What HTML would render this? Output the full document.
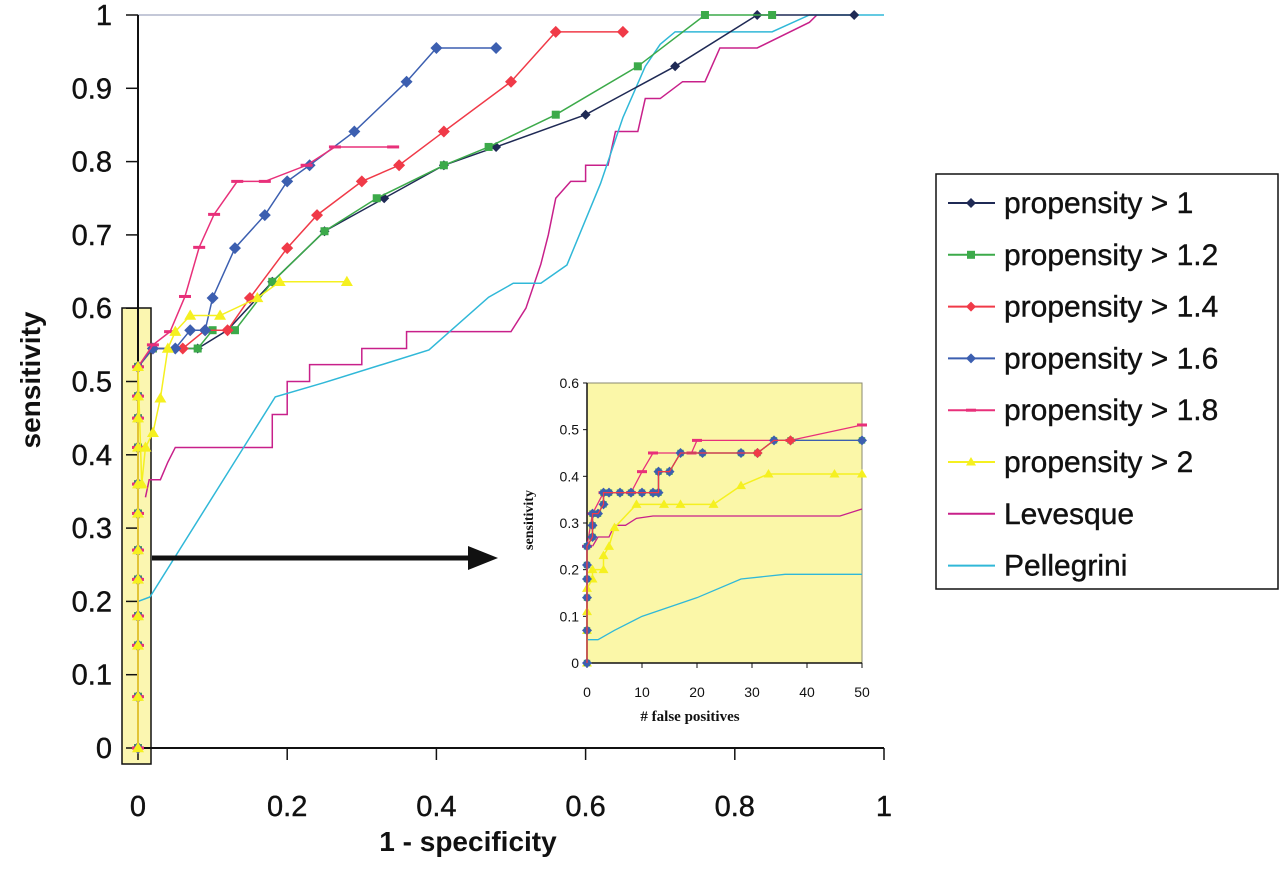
<!DOCTYPE html>
<html><head><meta charset="utf-8"><style>
html,body{margin:0;padding:0;background:#fff;width:1280px;height:889px;overflow:hidden}
svg{display:block;font-family:"Liberation Sans",sans-serif}
</style></head><body>
<svg id="chart" width="1280" height="889"></svg>
<script>
// ---------- main chart data ----------
const xTicks=[0,0.2,0.4,0.6,0.8,1];
const xTickLabels=["0","0.2","0.4","0.6","0.8","1"];
const yTicks=[0,0.1,0.2,0.3,0.4,0.5,0.6,0.7,0.8,0.9,1];
const yTickLabels=["0","0.1","0.2","0.3","0.4","0.5","0.6","0.7","0.8","0.9","1"];
const seriesNames=["propensity > 1","propensity > 1.2","propensity > 1.4","propensity > 1.6","propensity > 1.8","propensity > 2","Levesque","Pellegrini"];
const startY=[0,0.07,0.14,0.18,0.23,0.27,0.32,0.36,0.41,0.45,0.48,0.52];
const p1X=[0.02,0.08,0.12,0.18,0.25,0.33,0.41,0.48,0.6,0.72,0.83,0.96];
const p1Y=[0.545,0.545,0.57,0.636,0.705,0.75,0.795,0.82,0.864,0.93,1,1];
const p12X=[0.02,0.08,0.1,0.13,0.18,0.25,0.32,0.41,0.47,0.56,0.67,0.76,0.85];
const p12Y=[0.545,0.545,0.57,0.57,0.636,0.705,0.75,0.795,0.82,0.864,0.93,1,1];
const p14X=[0.02,0.06,0.09,0.12,0.15,0.2,0.24,0.3,0.35,0.41,0.5,0.56,0.65];
const p14Y=[0.545,0.545,0.57,0.57,0.614,0.682,0.727,0.773,0.795,0.841,0.909,0.977,0.977];
const p16X=[0.02,0.05,0.07,0.09,0.1,0.13,0.17,0.2,0.23,0.29,0.36,0.4,0.48];
const p16Y=[0.545,0.545,0.57,0.57,0.614,0.682,0.727,0.773,0.795,0.841,0.909,0.955,0.955];
const p18X=[0.02,0.043,0.063,0.082,0.102,0.133,0.17,0.226,0.264,0.342];
const p18Y=[0.55,0.568,0.616,0.683,0.728,0.773,0.773,0.795,0.82,0.82];
const p2X=[0.005,0.01,0.02,0.03,0.04,0.05,0.07,0.11,0.16,0.19,0.28];
const p2Y=[0.36,0.41,0.43,0.477,0.545,0.568,0.59,0.59,0.614,0.636,0.636];
const levX=[0.01,0.015,0.03,0.04,0.05,0.18,0.18,0.2,0.2,0.23,0.23,0.3,0.3,0.36,0.36,0.5,0.52,0.54,0.55,0.56,0.58,0.6,0.6,0.63,0.64,0.67,0.68,0.7,0.73,0.76,0.78,0.83,0.9,0.91];
const levY=[0.342,0.366,0.366,0.39,0.41,0.41,0.455,0.455,0.5,0.5,0.523,0.523,0.545,0.545,0.568,0.568,0.6,0.66,0.7,0.75,0.773,0.773,0.795,0.795,0.841,0.841,0.886,0.886,0.909,0.909,0.955,0.955,0.99,1];
const pelX=[0,0.016,0.184,0.248,0.39,0.47,0.503,0.54,0.575,0.62,0.65,0.68,0.7,0.72,0.85,0.9,1];
const pelY=[0.2,0.206,0.479,0.498,0.543,0.615,0.634,0.634,0.659,0.77,0.86,0.93,0.96,0.977,0.977,1,1];
// ---------- inset data ----------
const inXTicks=[0,10,20,30,40,50];
const inYTicks=[0,0.1,0.2,0.3,0.4,0.5,0.6];
const inPropX=[0,0,0,0,0,0,1,1,1,2,3,3,4,6,8,10,12,13,13,15,17,21,28,31,34,37,50];
const inPropY=[0,0.07,0.14,0.18,0.21,0.25,0.27,0.295,0.32,0.32,0.34,0.365,0.365,0.365,0.365,0.365,0.365,0.365,0.41,0.41,0.45,0.45,0.45,0.45,0.477,0.477,0.477];
const inPinkX=[0,1,3,8,10,12,19,20,37,50];
const inPinkY=[0.25,0.32,0.365,0.365,0.41,0.45,0.45,0.477,0.477,0.51];
const inYelX=[0,0,0,0,1,1,3,3,4,5,9,14,17,23,28,33,45,50];
const inYelY=[0,0.07,0.11,0.16,0.18,0.2,0.2,0.23,0.25,0.29,0.34,0.34,0.34,0.34,0.38,0.405,0.405,0.405];
const inLevX=[1,2,4,5,7,9,12,46,50];
const inLevY=[0.25,0.27,0.27,0.295,0.295,0.31,0.315,0.315,0.33];
const inPelX=[0,0,2,5,10,20,28,36,50];
const inPelY=[0,0.05,0.05,0.07,0.1,0.14,0.18,0.19,0.19];

const NS="http://www.w3.org/2000/svg";
const svg=document.getElementById('chart');
function mk(tag,attrs,parent,name,inter){const e=document.createElementNS(NS,tag);for(const k in attrs)e.setAttribute(k,attrs[k]);(parent||svg).appendChild(e);


return e;}
const X=v=>138+v*746, Y=v=>748-v*733;
const IX=v=>587+v*5.5, IY=v=>663-v*466.7;

const COL={p1:"#1f2a55",p12:"#3caa4a",p14:"#f03a48",p16:"#3c5fb0",p18:"#e8307a",p2:"#f5f020",lev:"#c8208a",pel:"#30b8d8"};

function marker(g,type,x,y,c,s,name){
  if(type==='d')mk('polygon',{points:`${x},${y-s} ${x+s},${y} ${x},${y+s} ${x-s},${y}`,fill:c},g,name);
  else if(type==='s')mk('rect',{x:x-s*0.8,y:y-s*0.8,width:s*1.6,height:s*1.6,fill:c},g,name);
  else if(type==='t')mk('polygon',{points:`${x},${y-s} ${x+s},${y+s*0.7} ${x-s},${y+s*0.7}`,fill:c},g,name);
  else if(type==='-')mk('rect',{x:x-s,y:y-1.5,width:s*2,height:3,fill:c},g,name);
}
function series(xs,ys,fx,fy,c,w,type,s,name){
  const g=mk('g',{},svg,name);
  const pts=xs.map((v,i)=>fx(v)+','+fy(ys[i])).join(' ');
  mk('polyline',{points:pts,fill:'none',stroke:c,'stroke-width':w},g,name+'-line');
  if(type)xs.forEach((v,i)=>marker(g,type,fx(v),fy(ys[i]),c,s,name+'-marker'));
  return g;
}

mk('rect',{x:122,y:308,width:29,height:456,fill:'#fbf6b0',stroke:'#111','stroke-width':1.5},svg,'highlight-box');
mk('line',{x1:138,y1:15,x2:884,y2:15,stroke:'#8890b0','stroke-width':1},svg,'gridline-top');
mk('line',{x1:138,y1:15,x2:138,y2:748,stroke:'#111','stroke-width':2},svg,'y-axis');
mk('line',{x1:138,y1:748,x2:884,y2:748,stroke:'#111','stroke-width':2},svg,'x-axis');
yTicks.forEach((t,i)=>{
  mk('line',{x1:126,y1:Y(t),x2:138,y2:Y(t),stroke:'#111','stroke-width':1.5},svg,'y-tick');
  const tx=mk('text',{x:112,y:Y(t)+10,'font-size':29,'text-anchor':'end',fill:'#111',stroke:'#111','stroke-width':0.4},svg,'y-tick-label');tx.textContent=yTickLabels[i];
});
xTicks.forEach((t,i)=>{
  mk('line',{x1:X(t),y1:748,x2:X(t),y2:760,stroke:'#111','stroke-width':1.5},svg,'x-tick');
  const tx=mk('text',{x:X(t),y:816,'font-size':29,'text-anchor':'middle',fill:'#111',stroke:'#111','stroke-width':0.4},svg,'x-tick-label');tx.textContent=xTickLabels[i];
});
const xt=mk('text',{x:468,y:851,'font-size':28,'font-weight':'bold','text-anchor':'middle',fill:'#111'},svg,'x-axis-title');xt.textContent='1 - specificity';
const yt=mk('text',{x:0,y:0,'font-size':28,'font-weight':'bold','text-anchor':'middle',fill:'#111',transform:'translate(40,380) rotate(-90)'},svg,'y-axis-title');yt.textContent='sensitivity';

series(levX,levY,X,Y,COL.lev,1.5,null,0,'levesque-series');
series(pelX,pelY,X,Y,COL.pel,1.5,null,0,'pellegrini-series');
const sy=startY.map(()=>0);
series([...sy,...p1X],[...startY,...p1Y],X,Y,COL.p1,1.5,'d',5,'propensity-1-series');
series([...sy,...p12X],[...startY,...p12Y],X,Y,COL.p12,1.5,'s',5,'propensity-1-2-series');
series([...sy,...p14X],[...startY,...p14Y],X,Y,COL.p14,1.5,'d',6,'propensity-1-4-series');
series([...sy,...p16X],[...startY,...p16Y],X,Y,COL.p16,1.5,'d',6,'propensity-1-6-series');
series([...sy,...p18X],[...startY,...p18Y],X,Y,COL.p18,1.5,'-',6,'propensity-1-8-series');
series([...sy,...p2X],[...startY,...p2Y],X,Y,COL.p2,1.5,'t',6,'propensity-2-series');

mk('line',{x1:152,y1:558,x2:472,y2:558,stroke:'#111','stroke-width':5},svg,'zoom-arrow-shaft');
mk('polygon',{points:'468,546 498,558 468,570',fill:'#111'},svg,'zoom-arrow-head');

const inset=mk('g',{},svg,'inset-chart');
mk('rect',{x:587,y:383,width:275,height:280,fill:'#fbf7a8',stroke:'#8a8a70','stroke-width':1},inset,'inset-plot-area');
mk('line',{x1:587,y1:383,x2:587,y2:663,stroke:'#111','stroke-width':1.5},inset,'inset-y-axis');
mk('line',{x1:587,y1:663,x2:862,y2:663,stroke:'#111','stroke-width':1.5},inset,'inset-x-axis');
inYTicks.forEach(t=>{
  mk('line',{x1:583,y1:IY(t),x2:587,y2:IY(t),stroke:'#111'},inset,'inset-y-tick');
  const tx=mk('text',{x:579,y:IY(t)+5,'font-size':14,'text-anchor':'end',fill:'#111'},inset,'inset-y-tick-label');tx.textContent=String(t);
});
inXTicks.forEach(t=>{
  mk('line',{x1:IX(t),y1:663,x2:IX(t),y2:668,stroke:'#111'},inset,'inset-x-tick');
  const tx=mk('text',{x:IX(t),y:697,'font-size':14,'text-anchor':'middle',fill:'#111'},inset,'inset-x-tick-label');tx.textContent=String(t);
});
const ixt=mk('text',{x:690,y:721,'font-size':15,'font-weight':'bold','text-anchor':'middle','font-family':'Liberation Serif,serif',fill:'#111'},inset,'inset-x-axis-title');ixt.textContent='# false positives';
const iyt=mk('text',{x:0,y:0,'font-size':14,'font-weight':'bold','text-anchor':'middle','font-family':'Liberation Serif,serif',fill:'#111',transform:'translate(533,520) rotate(-90)'},inset,'inset-y-axis-title');iyt.textContent='sensitivity';
series(inPelX,inPelY,IX,IY,COL.pel,1.3,null,0,'inset-pellegrini');
series(inLevX,inLevY,IX,IY,COL.lev,1.3,null,0,'inset-levesque');
series(inYelX,inYelY,IX,IY,COL.p2,1.5,'t',5,'inset-propensity-2');
series(inPinkX,inPinkY,IX,IY,COL.p18,1.3,'-',5,'inset-propensity-1-8');
series(inPropX,inPropY,IX,IY,COL.p12,1.3,'s',4,'inset-propensity-1-2');
series(inPropX,inPropY,IX,IY,COL.p16,1.3,'d',5,'inset-propensity-1-6');
series(inPropX.slice(0,26),inPropY.slice(0,26),IX,IY,COL.p14,1.3,null,0,'inset-propensity-1-4');
marker(svg,'d',IX(31),IY(0.45),COL.p14,5,'inset-red-marker');
marker(svg,'d',IX(37),IY(0.477),COL.p14,5,'inset-red-marker');

const lg=mk('g',{},svg,'legend');
mk('rect',{x:936,y:174,width:342,height:415,fill:'#fff',stroke:'#111','stroke-width':1.5},lg,'legend-box');
const legTypes=['d','s','d','d','-','t',null,null];
const legCols=[COL.p1,COL.p12,COL.p14,COL.p16,COL.p18,COL.p2,COL.lev,COL.pel];
seriesNames.forEach((n,i)=>{
  const y=203+i*51.8;
  const e=mk('g',{},lg,'legend-entry',true);
  mk('line',{x1:948,y1:y,x2:995,y2:y,stroke:legCols[i],'stroke-width':2},e,'legend-swatch');
  if(legTypes[i])marker(e,legTypes[i],971,y,legCols[i],5,'legend-marker');
  const t=mk('text',{x:1004,y:y+10,'font-size':30,fill:'#111',stroke:'#111','stroke-width':0.4},e,'legend-label');t.textContent=n;
});
</script>
</body></html>
